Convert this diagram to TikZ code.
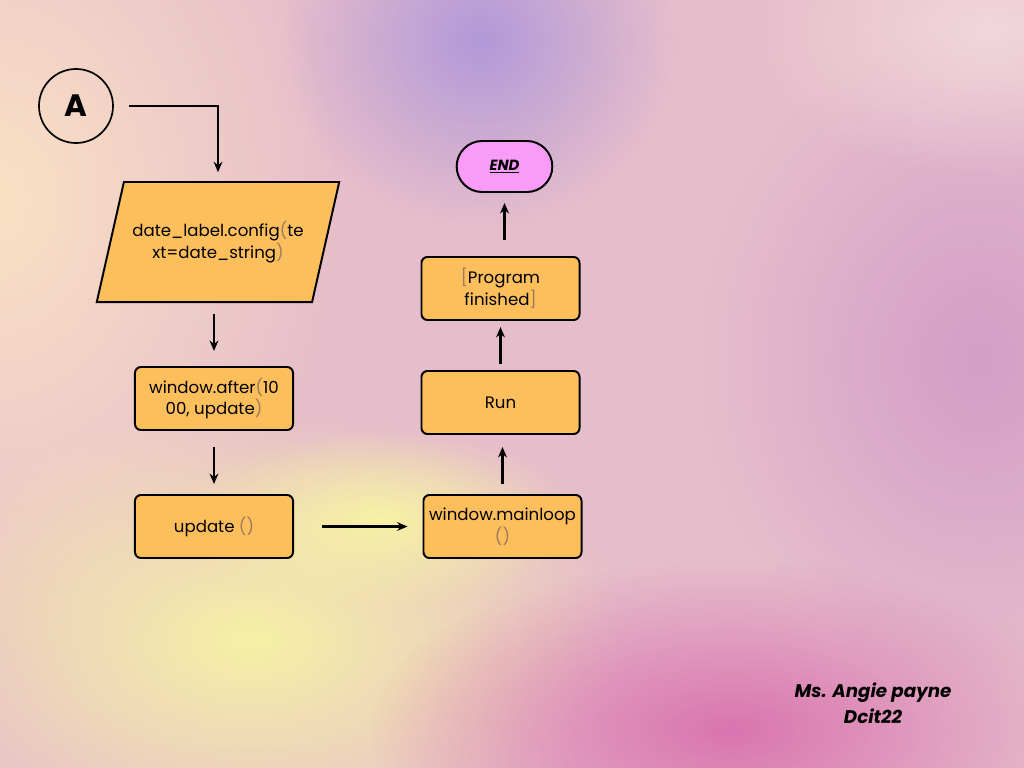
\documentclass[tikz,border=0pt]{standalone}
\usepackage{fontspec}
\setmainfont{Poppins}
\usepackage{xcolor}
\usepackage{tikz}
\usetikzlibrary{arrows.meta,positioning,shapes.geometric,shapes.misc,fadings}
\definecolor{flowbase}{HTML}{E6BECB}
\definecolor{flowpeach}{HTML}{FBE3C4}
\definecolor{flowlilac}{HTML}{B096DA}
\definecolor{flowlemon}{HTML}{F8F3A4}
\definecolor{flowmagenta}{HTML}{D970AE}
\definecolor{flowmauve}{HTML}{D29CC8}
\definecolor{flowblush}{HTML}{F2D8DC}
\definecolor{flowgold}{HTML}{FDBE5C}
\definecolor{flowpink}{HTML}{F99CF8}
\definecolor{flowparen}{HTML}{9A7C5C}
\newcommand{\pl}[1]{\textcolor{flowparen}{#1}}
\tikzfading[name=softblob,inner color=transparent!0,outer color=transparent!100]
\tikzset{
  blob/.style={path fading=softblob,opacity=0.95},
  proc/.style={rectangle,rounded corners=1.5mm,draw=black,line width=1.4pt,fill=flowgold,align=center,minimum width=3.95cm,minimum height=1.575cm,font=\fontsize{11.8}{15.5}\selectfont},
  inbox/.style={trapezium,trapezium left angle=63,trapezium right angle=117,trapezium stretches=true,draw=black,line width=1.4pt,fill=flowgold,align=center,minimum width=6.075cm,minimum height=3cm,font=\fontsize{11.8}{15.5}\selectfont},
  endcap/.style={rounded rectangle,draw=black,line width=1.4pt,fill=flowpink,minimum width=2.625cm,minimum height=1.275cm,font=\bfseries\itshape\fontsize{10.5}{11}\selectfont},
  conn/.style={circle,draw=black,line width=1.2pt,minimum size=1.85cm,font=\bfseries\fontsize{22}{22}\selectfont},
  sig/.style={align=center,font=\bfseries\itshape\fontsize{13}{18.5}\selectfont},
  edge/.style={-{Stealth[length=2.6mm,width=2.2mm]},line width=1.5pt,draw=black}
}

\begin{document}
\begin{tikzpicture}[x=0.025cm,y=-0.025cm]
\useasboundingbox (0,0) rectangle (1024,768);
\begin{scope}
\clip (0,0) rectangle (1024,768);
\fill[flowbase] (0,0) rectangle (1024,768);
\fill[flowmauve,blob] (980,360) ellipse (280 and 330);
\fill[flowpeach,blob] (0,200) ellipse (340 and 460);
\fill[flowblush,blob] (990,30) ellipse (240 and 150);
\fill[flowlilac,blob] (480,40) ellipse (200 and 190);
\fill[flowlemon,blob] (250,640) ellipse (380 and 230);
\fill[flowlemon,blob] (380,520) ellipse (200 and 90);
\fill[flowmagenta,blob] (730,730) ellipse (360 and 170);
\end{scope}

\node[conn] (A) at (76,106) {A};
\node[inbox] (cfg) at (218,242) {date\_label.config\pl{(}te\\xt=date\_string\pl{)}};
\node[proc] (after) at (214,398.5) {window.after\pl{(}10\\00, update\pl{)}};
\node[proc] (update) at (214,526.5) {update \pl{()}};
\node[proc] (mainloop) at (502.5,526.5) {window.mainloop\\\pl{()}};
\node[proc] (run) at (500.5,402.5) {Run};
\node[proc] (prog) at (500.5,288.5) {\pl{[}Program\\finished\pl{]}};
\node[endcap] (end) at (504.5,166.5) {\underline{END}};
\node[sig] (sig) at (873,703) {Ms. Angie payne\\Dcit22};

\draw[edge,shorten <=3.75mm,shorten >=2.2mm] (A.east) -| (cfg.north);
\draw[edge,shorten <=2.75mm,shorten >=3.75mm] (after.north |- cfg.south) -- (after.north);
\draw[edge,shorten <=4mm,shorten >=2.5mm] (after.south) -- (update.north);
\draw[edge,shorten <=7mm,shorten >=3.75mm] (update.east) -- (mainloop.west);
\draw[edge,shorten <=2.5mm,shorten >=3mm] (mainloop.north) -- (mainloop.north |- run.south);
\draw[edge,shorten <=1.5mm,shorten >=1.5mm] (run.north) -- (prog.south);
\draw[edge,shorten <=4mm,shorten >=2.5mm] (prog.north -| end.south) -- (end.south);
\end{tikzpicture}
\end{document}
